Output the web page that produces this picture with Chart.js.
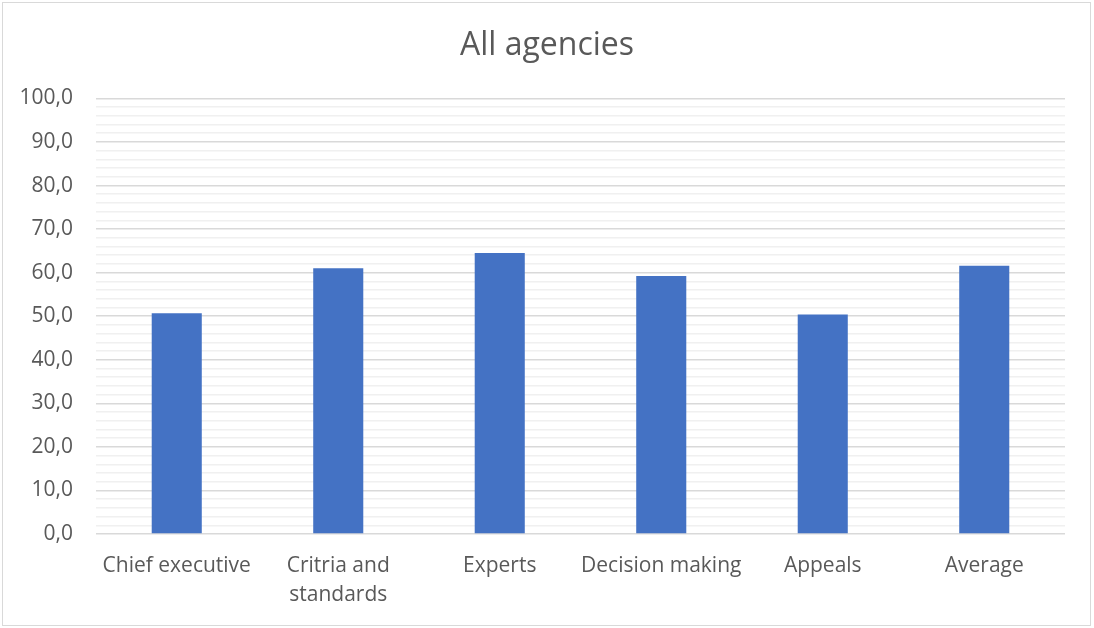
<!DOCTYPE html>
<html>
<head>
<meta charset="utf-8">
<script src="https://cdn.jsdelivr.net/npm/chart.js@4/dist/chart.umd.min.js"></script>
<style>
html,body{margin:0;padding:0;background:#fff;}
#wrap{position:relative;width:1094px;height:628px;}
</style>
</head>
<body>
<div id="wrap"><canvas id="c" width="1094" height="628"></canvas></div>
<script>
const categories = ["Chief executive", ["Critria and", "standards"], "Experts", "Decision making", "Appeals", "Average"];
const values = [50.7, 61.0, 64.5, 59.2, 50.4, 61.6];
const yMin = 0, yMax = 100, yStep = 2, yLabelStep = 10;
const titleText = "All agencies";
const FONT = '"Open Sans", "Noto Sans", sans-serif';

const borderPlugin = {
  id: 'outerBorder',
  beforeDraw(chart) {
    const c = chart.ctx;
    c.save();
    c.fillStyle = '#ffffff';
    c.fillRect(0, 0, chart.width, chart.height);
    c.strokeStyle = '#d9d9d9';
    c.lineWidth = 1;
    c.strokeRect(2.5, 2.5, chart.width - 6, chart.height - 5);
    c.restore();
  }
};

new Chart(document.getElementById('c'), {
  type: 'bar',
  data: {
    labels: categories,
    datasets: [{
      data: values,
      backgroundColor: '#4472c4',
      borderWidth: 0,
      categoryPercentage: 1,
      barPercentage: 0.31
    }]
  },
  options: {
    responsive: false,
    animation: false,
    layout: { padding: { left: 10, right: 10, top: 0, bottom: 0 } },
    plugins: {
      legend: { display: false },
      tooltip: { enabled: false },
      title: {
        display: true,
        text: titleText,
        color: '#595959',
        font: { family: FONT, size: 32, weight: 'normal', lineHeight: 1.2 },
        padding: { top: 27, bottom: 33 }
      }
    },
    scales: {
      x: {
        grid: { display: false },
        border: { display: false },
        ticks: {
          color: '#595959',
          font: { family: FONT, size: 21, lineHeight: 1.38 },
          padding: 10,
          maxRotation: 0,
          autoSkip: false
        },
        afterFit(scale) { scale.height = 628 - 534; }
      },
      y: {
        min: yMin, max: yMax,
        border: { display: false },
        grid: {
          drawTicks: false,
          color: (ctx) => (ctx.tick && ctx.tick.value % yLabelStep === 0) ? '#d9d9d9' : '#f0f0f0',
          lineWidth: 1.5
        },
        ticks: {
          stepSize: yStep,
          autoSkip: false,
          color: '#595959',
          font: { family: FONT, size: 21 },
          padding: 23,
          callback: (v) => (v % yLabelStep === 0) ? v.toFixed(1).replace('.', ',') : ''
        },
        afterFit(scale) { scale.width = 86; }
      },
      yRight: {
        position: 'right',
        min: yMin, max: yMax,
        grid: { display: false },
        border: { display: false },
        ticks: { display: false },
        afterFit(scale) { scale.width = 19; }
      }
    }
  },
  plugins: [borderPlugin]
});
</script>
</body>
</html>
